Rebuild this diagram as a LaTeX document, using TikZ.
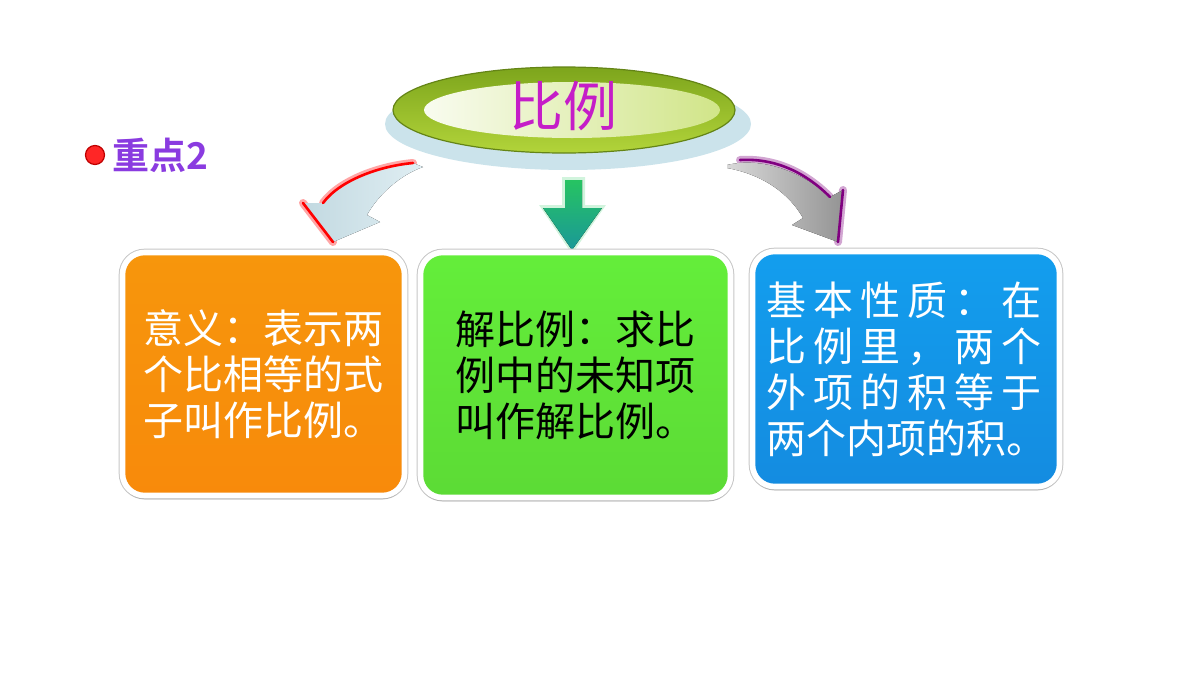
\documentclass[tikz,border=0pt]{standalone}
\usepackage{fontspec}
\usepackage{tikz}
\usetikzlibrary{shadows}
\newfontfamily\cjk{Noto Sans CJK SC}[BoldFont={Noto Sans CJK SC Bold}]
\definecolor{naranja}{HTML}{F7960C}
\definecolor{verde}{HTML}{64EE3A}
\definecolor{azul}{HTML}{1593EC}
\definecolor{morado}{HTML}{8A3BE0}
\definecolor{magenta2}{HTML}{C51DC8}
\definecolor{celeste}{HTML}{CBE3EB}
\definecolor{turquesa}{HTML}{1A9898}
\definecolor{oliva}{HTML}{7DA51C}
\definecolor{lima}{HTML}{B2D43A}

\begin{document}
\begin{tikzpicture}[x=0.5pt,y=-0.5pt,
    caja/.style={rounded corners=11pt, draw=white, line width=2.8pt, inner sep=0pt, align=left,
      preaction={draw=black!22, line width=3.8pt},
      drop shadow={shadow xshift=0pt, shadow yshift=-2pt, opacity=0.25},
      font=\cjk\fontsize{20}{23}\selectfont},
    borde/.style={line width=1.3pt, line cap=round, line join=round}]
  \useasboundingbox (0,0) rectangle (1200,675);

  % elipse del titulo
  \fill[celeste] (568,124) ellipse [x radius=91.5pt, y radius=23pt];
  \draw[oliva!80!black, line width=0.6pt, top color=oliva, bottom color=lima]
    (564,110) ellipse [x radius=85.5pt, y radius=21.5pt];
  \shade[left color=white!92!lima, right color=lima!60!white]
    (572,110) ellipse [x radius=74pt, y radius=14pt];
  \node[font=\cjk\fontsize{27}{30}\selectfont, text=magenta2] (titulo) at (563,106) {比例};

  % punto y rotulo
  \node[circle, fill=red!85!white, draw=red!75!black, line width=0.6pt, minimum size=9.5pt, inner sep=0pt] (punto) at (95,155) {};
  \node[anchor=west, inner sep=0pt, font=\cjk\bfseries\fontsize{18.5}{20}\selectfont, text=morado] (clave) at (112,155) {重点2};

  % flecha izquierda
  \draw[red!35, line width=4pt, line cap=round] (413,163) .. controls (380,166) and (340,180) .. (323,203) (303,203) -- (333,242);
  \fill[left color=celeste!85!black!30!celeste, right color=celeste!60!white]
    (413,163) .. controls (380,166) and (340,180) .. (323,203) -- (303,203) -- (333,242) -- (380,222)
    -- (367,215) .. controls (378,195) and (400,175) .. (423,167) -- cycle;
  \draw[red, borde] (413,163) .. controls (380,166) and (340,180) .. (323,203) (303,203) -- (333,242);

  % flecha central
  \fill[green!50!teal!30, opacity=0.6] (562,177) -- (585,177) -- (585,205) -- (606,205) -- (572,254) -- (539,205) -- (562,205) -- cycle;
  \fill[top color=teal!55!green!85!white, bottom color=turquesa]
    (565,180) -- (582,180) -- (582,208) -- (602,208) -- (572,250) -- (543,208) -- (565,208) -- cycle;

  % flecha derecha
  \draw[violet!35, line width=4pt, line cap=round] (740,160) .. controls (775,158) and (805,172) .. (830,197) (843,190) -- (838,242);
  \fill[left color=black!15, right color=black!42]
    (727,165) .. controls (760,157) and (800,170) .. (830,197) -- (843,190) -- (838,242) -- (792,225)
    -- (803,218) .. controls (790,195) and (765,175) .. (727,168) -- cycle;
  \draw[violet, borde] (740,160) .. controls (775,158) and (805,172) .. (830,197) (843,190) -- (838,242);

  % cajas
  \node[caja, top color=naranja, bottom color=naranja!92!red, text=white,
    minimum width=141pt, minimum height=121.5pt] (sentido) at (263.5,374)
    {意义：表示两\\个比相等的式\\子叫作比例。};
  \node[caja, top color=verde, bottom color=verde!92!black, text=black,
    minimum width=155pt, minimum height=122.5pt] (resolver) at (575.5,375)
    {解比例：求比\\例中的未知项\\叫作解比例。};
  \node[caja, top color=azul!90!cyan, bottom color=azul!95!black, text=white,
    minimum width=153.5pt, minimum height=117.5pt] (propiedad) at (906,369)
    {\makebox[137.5pt][l]{基\hfill 本\hfill 性\hfill 质\hfill ：\hfill 在}\\
     \makebox[137.5pt][l]{比\hfill 例\hfill 里\hfill ，\hfill 两\hfill 个}\\
     \makebox[137.5pt][l]{外\hfill 项\hfill 的\hfill 积\hfill 等\hfill 于}\\
     两个内项的积。};
\end{tikzpicture}
\end{document}
